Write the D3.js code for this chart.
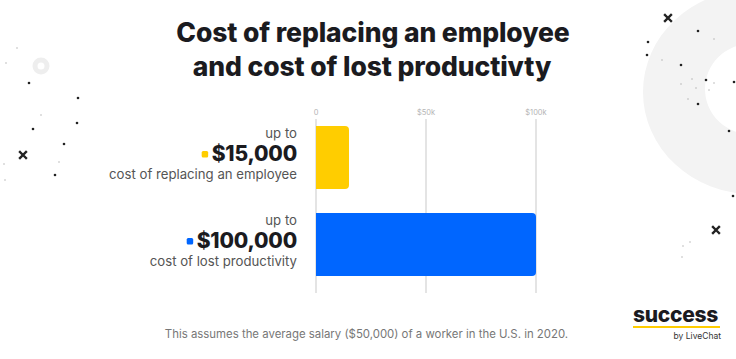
<!DOCTYPE html>
<html><head><meta charset="utf-8">
<script src="https://cdn.jsdelivr.net/npm/d3@7/dist/d3.min.js"></script>
<style>html,body{margin:0;padding:0;background:#fff;}svg{display:block;font-family:Inter,"Noto Sans",sans-serif;}</style>
</head><body>
<svg id="chart" width="736" height="359"></svg>
<script>
const categories = ["cost of replacing an employee", "cost of lost productivity"];
const values = [15000, 100000];
const valueLabels = ["$15,000", "$100,000"];
const colors = ["#ffcd00", "#0066ff"];
const tickValues = [0, 50000, 100000];
const tickLabels = ["0", "$50k", "$100k"];

const svg = d3.select("#chart");

// decorative background
const deco = svg.append("g");
deco.append("path")
  .attr("d", "M752,-10 A109,102 0 1,0 752,194 A109,102 0 1,0 752,-10 Z M750,44 A45,45 0 1,1 750,134 A45,45 0 1,1 750,44 Z")
  .attr("fill", "#f3f3f3").attr("fill-rule", "evenodd");
deco.append("circle").attr("cx", 41).attr("cy", 66).attr("r", 6).attr("fill", "none").attr("stroke", "#eeeeee").attr("stroke-width", 5);

const darkDots = [[29,83],[78,98],[77,123],[33,129],[64,144],[55,175],[698,31],[648,42],[647,55],[681,65],[706,80],[734,82],[698,104],[729,131],[733,196]];
const faintDots = [[17,48],[6,63],[41,115],[4,164],[59,162],[5,180],[714,39],[662,60],[692,79],[681,84],[696,88],[714,83],[709,90],[688,99],[690,242],[683,246],[682,257]];
const crosses = [[23,155],[668,18],[716,230]];
deco.selectAll("circle.d").data(darkDots).join("circle").attr("class","d")
  .attr("cx", d => d[0]).attr("cy", d => d[1]).attr("r", 1.3).attr("fill", "#222");
deco.selectAll("circle.f").data(faintDots).join("circle").attr("class","f")
  .attr("cx", d => d[0]).attr("cy", d => d[1]).attr("r", 0.7).attr("fill", "#aaa");
deco.selectAll("path.x").data(crosses).join("path").attr("class","x")
  .attr("d", d => `M${d[0]-3},${d[1]-3}L${d[0]+3},${d[1]+3}M${d[0]+3},${d[1]-3}L${d[0]-3},${d[1]+3}`)
  .attr("stroke", "#222").attr("stroke-width", 2.4).attr("stroke-linecap", "square");

// title
const title = svg.append("text").attr("text-anchor", "middle").attr("fill", "#1b1b1f")
  .attr("font-weight", 800).attr("font-size", 26.5).attr("letter-spacing", -0.1);
title.append("tspan").attr("x", 373).attr("y", 42).text("Cost of replacing an employee");
title.append("tspan").attr("x", 372).attr("y", 76).text("and cost of lost productivty");

// scales
const x = d3.scaleLinear().domain([0, 100000]).range([316, 536]);
const y = d3.scaleBand().domain(categories).range([117.3, 284.7]).paddingInner(0.276).paddingOuter(0.1);

// grid
const grid = svg.append("g");
grid.selectAll("line").data(tickValues).join("line")
  .attr("x1", d => x(d)).attr("x2", d => x(d)).attr("y1", 119).attr("y2", 293)
  .attr("stroke", "#c9c9c9").attr("stroke-width", 1);
grid.selectAll("text").data(tickValues).join("text")
  .attr("x", d => x(d)).attr("y", 115).attr("text-anchor", "middle")
  .attr("font-size", 7.5).attr("fill", "#b5b5b5").text((d, i) => tickLabels[i]);

// bars with rounded right corners
function barPath(x0, x1, y0, h, r) {
  return `M${x0},${y0}H${x1-r}Q${x1},${y0} ${x1},${y0+r}V${y0+h-r}Q${x1},${y0+h} ${x1-r},${y0+h}H${x0}Z`;
}
svg.append("g").selectAll("path").data(categories).join("path")
  .attr("d", (c, i) => barPath(x(0), x(values[i]), y(c), y.bandwidth(), 4))
  .attr("fill", (c, i) => colors[i]);

// labels
const lab = svg.append("g");
categories.forEach((c, i) => {
  const y0 = y(c);
  const g = lab.append("g");
  g.append("text").attr("x", 297).attr("y", y0 + 12).attr("text-anchor", "end")
    .attr("font-size", 13.2).attr("fill", "#555").text("up to");
  const v = g.append("text").attr("x", 297).attr("y", y0 + 35).attr("text-anchor", "end")
    .attr("font-size", 21).attr("font-weight", 800).attr("fill", "#1b1b1f").attr("letter-spacing", -0.2).text(valueLabels[i]);
  const w = v.node().getComputedTextLength();
  g.append("rect").attr("x", 297 - w - 10).attr("y", y0 + 25).attr("width", 6.5).attr("height", 6.5)
    .attr("rx", 1.5).attr("fill", colors[i]);
  g.append("text").attr("x", 297).attr("y", y0 + 53).attr("text-anchor", "end")
    .attr("font-size", 13.2).attr("fill", "#555").text(c);
});

// footer
svg.append("text").attr("x", 366.5).attr("y", 338).attr("text-anchor", "middle")
  .attr("font-size", 11.4).attr("fill", "#777")
  .text("This assumes the average salary ($50,000) of a worker in the U.S. in 2020.");

// logo
svg.append("text").attr("x", 633).attr("y", 322).attr("font-size", 21).attr("font-weight", 800)
  .attr("fill", "#1b1b1f").attr("letter-spacing", -0.3).text("success");
svg.append("rect").attr("x", 633).attr("y", 326).attr("width", 87).attr("height", 2).attr("fill", "#ffcd00");
svg.append("text").attr("x", 721).attr("y", 339).attr("text-anchor", "end").attr("font-size", 8.5)
  .attr("fill", "#333").text("by LiveChat");
</script>
</body></html>
